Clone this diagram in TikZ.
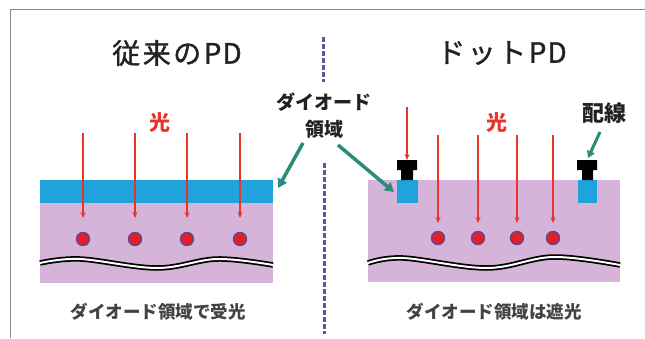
\documentclass[tikz,border=0pt]{standalone}
\usepackage{fontspec}
\setmainfont{Noto Sans CJK JP}
\newfontfamily\medfont{Noto Sans CJK JP}[FakeBold=1.2]
\usetikzlibrary{arrows.meta}
\definecolor{ink}{HTML}{222222}
\definecolor{frameg}{HTML}{8A8A8A}
\definecolor{layerblue}{HTML}{1FA3DA}
\definecolor{substrate}{HTML}{D6B3D9}
\definecolor{lightred}{HTML}{E8342A}
\definecolor{dotred}{HTML}{E21E26}
\definecolor{dotrim}{HTML}{5B4A8E}
\definecolor{pointer}{HTML}{2A8C78}
\definecolor{divider}{HTML}{5A5A9E}
\newcommand\tk{\kern2.5pt}
\tikzset{
  title/.style={text=ink, font=\medfont\fontsize{28}{30}\selectfont, inner sep=0pt},
  caption/.style={text=ink!85, font=\bfseries\fontsize{17.5}{20}\selectfont, inner sep=0pt},
  label/.style={text=ink, font=\bfseries\fontsize{19}{27}\selectfont, inner sep=0pt, align=center},
  hikari/.style={text=lightred, font=\bfseries\fontsize{21}{24}\selectfont, inner sep=0pt},
  ray/.style={draw=lightred, line width=1.6pt, -{Stealth[length=6pt,width=5pt]}},
  pointarrow/.style={draw=pointer, line width=3.5pt, -{Triangle[length=9pt,width=10pt]}},
  carrier/.style={circle, fill=dotred, draw=dotrim, line width=1.4pt, minimum size=13pt, inner sep=0pt},
  layer/.style={inner sep=0pt, draw=none},
  wiring/.style={fill=black},
}
\begin{document}
\begin{tikzpicture}[x=1pt,y=-1pt]
\useasboundingbox (0,0) rectangle (645,338);
\fill[white] (0,0) rectangle (645,338);

% outer frame
\draw[frameg, line width=1pt] (10,338) -- (10,9) -- (645,9);

% centre divider
\draw[divider, line width=3pt, dash pattern=on 4.5pt off 2.5pt] (323,37) -- (323,82);
\draw[divider, line width=3pt, dash pattern=on 4.5pt off 2.5pt] (324,163) -- (324,334);

% titles
\node[title] (t1) at (177,53) {従\tk 来\tk の\tk P\kern1pt D};
\node[title] (t2) at (502,53) {ド\tk ッ\tk ト\tk P\kern1pt D};

% ---------- conventional PD ----------
\fill[substrate] (40,203) rectangle (273,283);
\node[layer, fill=layerblue, minimum width=233pt, minimum height=23pt] (bluel) at (156.5,191.5) {};
\node[hikari] (h1) at (160,123) {光};
\foreach \x [count=\i] in {83,135,187,240} {
  \coordinate (ls\i) at (\x,133);
  \coordinate (le\i) at (\x,218);
  \draw[ray] (ls\i) -- (le\i);
  \node[carrier] (ld\i) at (\x,239) {};
}
\draw[black, line width=5.5pt] plot[smooth, tension=0.6] coordinates {(40,263) (80,259) (157,268) (217,259) (273,265)};
\draw[white, line width=2pt] plot[smooth, tension=0.6] coordinates {(40,263) (80,259) (157,268) (217,259) (273,265)};
\node[caption] (c1) at (158,312) {ダイオード領域で受光};

% ---------- dot PD ----------
\fill[substrate] (368,180) rectangle (620,282);
\node[layer, fill=layerblue, minimum width=21pt, minimum height=23pt] (dl) at (407.5,191.5) {};
\node[layer, fill=layerblue, minimum width=19pt, minimum height=23pt] (dr) at (587.5,191.5) {};
% wiring plugs
\fill[wiring] (397,160) rectangle (417,170) (401,169) rectangle (413,180);
\fill[wiring] (577,160) rectangle (597,170) (582,169) rectangle (593,180);
\coordinate (wl) at (407,160);
\coordinate (wr) at (587,160);
\coordinate (sl) at (407,107);
\draw[ray] (sl) -- (wl);
\node[hikari] (h2) at (497,123) {光};
\foreach \x [count=\i] in {438,478,517,553} {
  \coordinate (rs\i) at (\x,135);
  \coordinate (re\i) at (\x,223);
  \draw[ray] (rs\i) -- (re\i);
  \node[carrier] (rd\i) at (\x,238) {};
}
\draw[black, line width=5.5pt] plot[smooth, tension=0.6] coordinates {(368,263) (403,258) (487,268) (553,257) (620,265)};
\draw[white, line width=2pt] plot[smooth, tension=0.6] coordinates {(368,263) (403,258) (487,268) (553,257) (620,265)};
\node[caption] (c2) at (494,312) {ダイオード領域は遮光};

% ---------- labels ----------
\node[label] (diode) at (324,116) {ダイオード\\領域};
\coordinate (dla) at (303,143);
\coordinate (dlb) at (278,188);
\coordinate (dra) at (338,145);
\coordinate (drb) at (394,192);
\draw[pointarrow] (dla) -- (dlb);
\draw[pointarrow] (dra) -- (drb);
\node[label, font=\bfseries\fontsize{22}{24}\selectfont] (haisen) at (604,113) {配線};
\coordinate (ha) at (600,132);
\coordinate (hb) at (588,158);
\draw[pointarrow, line width=3pt, -{Triangle[length=7pt,width=8pt]}] (ha) -- (hb);
\end{tikzpicture}
\end{document}
